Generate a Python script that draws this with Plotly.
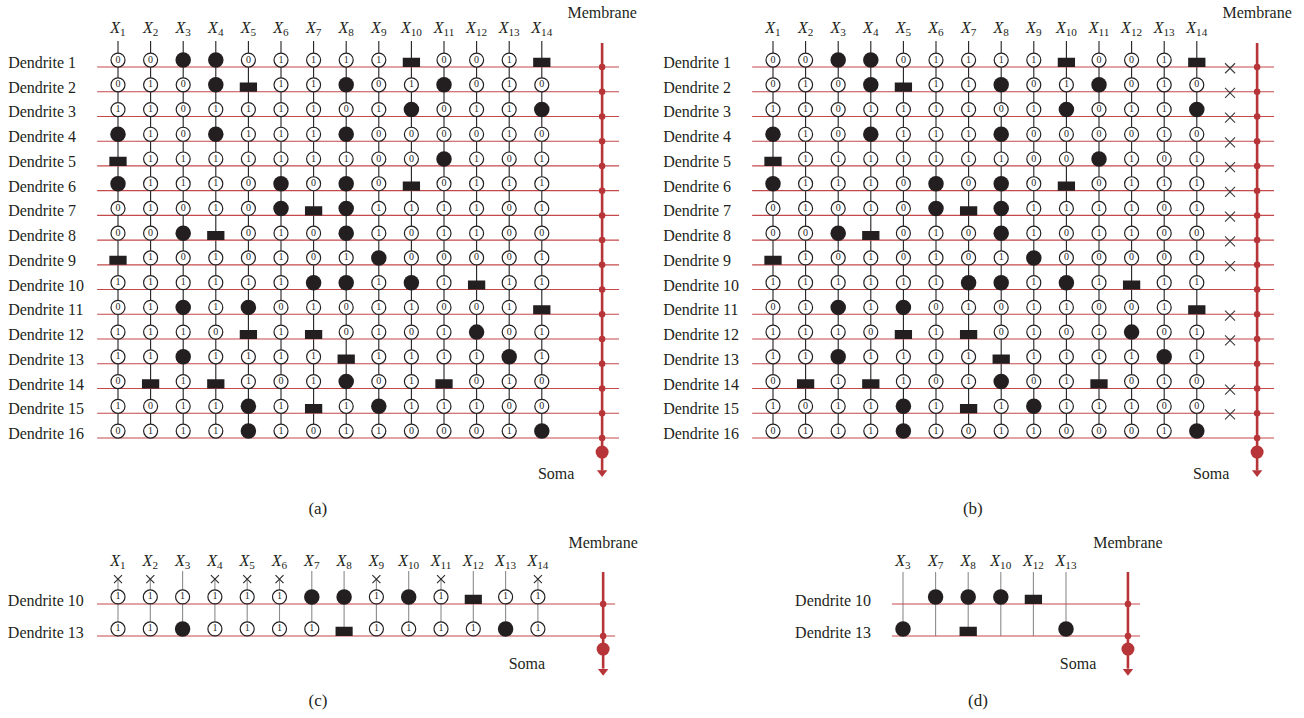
import plotly.graph_objects as go

W, H = 1304, 718

# ---------------------------------------------------------------- data
inputs = [f"X{i}" for i in range(1, 15)]
dendrites = [f"Dendrite {i}" for i in range(1, 17)]

# One string per dendrite, one character per input X1..X14:
# '0' / '1' constant synapse, 'F' filled circle, 'S' filled bar
synapses = [
    "00FF01111S001S",
    "010FS11F01F010",
    "110111101F011F",
    "F10F111F000010",
    "S111111100F101",
    "F1110F0F0S0111",
    "01010FSF111101",
    "00FS010F101100",
    "S1010101F00001",
    "111111FF1F1S11",
    "01F1F01011001S",
    "1110S1S0101F01",
    "11F1111S1111F1",
    "0S1S101F01S010",
    "1011F1S1F11100",
    "0111F10110001F",
]

pruned_dendrites = [1, 2, 3, 4, 5, 6, 7, 8, 9, 11, 12, 14, 15]
kept_dendrites = [10, 13]
pruned_inputs = [1, 2, 4, 5, 6, 9, 11, 14]
kept_inputs = [3, 7, 8, 10, 12, 13]

captions = ["(a)", "(b)", "(c)", "(d)"]

# ---------------------------------------------------------------- style
FONT = "Liberation Serif, DejaVu Serif, serif"
INK = "#231f20"
RED = "#c4494b"
MEM = "#b73538"
GREY = "#8c8c8c"
LABEL_SIZE = 16

fig = go.Figure()


def add_axes(n, dom_x, dom_y, x_ref_px, x_step, y_ref_px, y_step):
    """Axis pair n: value 0 sits at (x_ref_px, y_ref_px), one unit = step px."""
    sfx = "" if n == 1 else str(n)
    x0, x1 = dom_x
    y0, y1 = dom_y
    xr = [(x0 - x_ref_px) / x_step, (x1 - x_ref_px) / x_step]
    yr = [(y1 - y_ref_px) / y_step, (y0 - y_ref_px) / y_step]
    fig.update_layout({
        f"xaxis{sfx}": dict(domain=[x0 / W, x1 / W], range=xr, visible=False,
                            anchor=f"y{sfx}", fixedrange=True),
        f"yaxis{sfx}": dict(domain=[1 - y1 / H, 1 - y0 / H], range=yr, visible=False,
                            anchor=f"x{sfx}", fixedrange=True),
    })
    return f"x{sfx}", f"y{sfx}"


def x_label(name):
    return f"<i>X</i><sub>{name[1:]}</sub>"


def texts(ax, xs, ys, labels, size=LABEL_SIZE, position="middle center"):
    fig.add_trace(go.Scatter(x=xs, y=ys, text=labels, mode="text", textposition=position,
                             textfont=dict(family=FONT, size=size, color=INK),
                             cliponaxis=False, xaxis=ax[0], yaxis=ax[1],
                             hoverinfo="skip", showlegend=False))


def segments(pairs_x, pairs_y):
    xs, ys = [], []
    for (a, b), (c, d) in zip(pairs_x, pairs_y):
        xs += [a, b, None]
        ys += [c, d, None]
    return xs, ys


def lines(ax, xs, ys, color, width):
    fig.add_trace(go.Scatter(x=xs, y=ys, mode="lines", xaxis=ax[0], yaxis=ax[1],
                             line=dict(color=color, width=width), hoverinfo="skip",
                             showlegend=False))


def synapse_marks(ax, cols, rows, codes, g):
    """Draw open circles with their bit, filled circles and filled bars."""
    oc = [(c, r, k) for c, r, k in zip(cols, rows, codes) if k in "01"]
    fc = [(c, r) for c, r, k in zip(cols, rows, codes) if k == "F"]
    sq = [(c, r) for c, r, k in zip(cols, rows, codes) if k == "S"]
    if sq:
        hw, h = g["bar_w"] / 2, g["bar_h"]
        xs, ys = [], []
        for c, r in sq:
            xs += [c - hw, c + hw, c + hw, c - hw, c - hw, None]
            ys += [r - h, r - h, r, r, r - h, None]
        fig.add_trace(go.Scatter(x=xs, y=ys, mode="lines", fill="toself", fillcolor=INK,
                                 line=dict(width=0, color=INK), xaxis=ax[0], yaxis=ax[1],
                                 hoverinfo="skip", showlegend=False))
    if oc:
        fig.add_trace(go.Scatter(
            x=[c for c, r, k in oc], y=[r - g["off"] for c, r, k in oc],
            mode="markers+text", text=[k for c, r, k in oc], textposition="middle center",
            textfont=dict(family=FONT, size=10, color=INK), cliponaxis=False,
            marker=dict(symbol="circle", size=14, color="white", line=dict(color=INK, width=1.2)),
            xaxis=ax[0], yaxis=ax[1], hoverinfo="skip", showlegend=False))
    if fc:
        fig.add_trace(go.Scatter(
            x=[c for c, r in fc], y=[r - g["off"] for c, r in fc], mode="markers",
            marker=dict(symbol="circle", size=15.5, color=INK, line=dict(width=0)),
            xaxis=ax[0], yaxis=ax[1], hoverinfo="skip", showlegend=False, cliponaxis=False))


def membrane(ax, mx, rows, g):
    lines(ax, [mx, mx], [g["mem_top"], g["arrow"] - 0.08], MEM, 2.6)
    fig.add_trace(go.Scatter(x=[mx] * len(rows), y=rows, mode="markers",
                             marker=dict(size=6.5, color=MEM), xaxis=ax[0], yaxis=ax[1],
                             hoverinfo="skip", showlegend=False))
    fig.add_trace(go.Scatter(x=[mx], y=[g["soma_dot"]], mode="markers",
                             marker=dict(size=13, color=MEM), xaxis=ax[0], yaxis=ax[1],
                             hoverinfo="skip", showlegend=False))
    fig.add_trace(go.Scatter(x=[mx], y=[g["arrow"]], mode="markers",
                             marker=dict(symbol="triangle-down", size=9, color=MEM,
                                         line=dict(width=0)),
                             xaxis=ax[0], yaxis=ax[1], hoverinfo="skip", showlegend=False,
                             cliponaxis=False))
    texts(ax, [mx, g["soma_x"]], [g["mem_text"], g["soma_y"]], ["Membrane", "Soma"])


# ---------------------------------------------------------------- panels (a) and (b)
full_g = dict(off=0.28, bar_w=0.53, bar_h=0.37, line_from=-0.64, line_to=15.37,
              stem_top=-1.05, mem_x=14.85, mem_top=-0.97, soma_dot=15.57, arrow=16.4,
              mem_text=-2.14, soma_x=13.44, soma_y=16.5, lab_x=-3.37, lab_dy=-0.12,
              xlab_y=-1.55, cap_x=6.13, cap_y=17.9, cut_x=14.02)

for n, (dom_x, x0px, cap) in enumerate([((0, 652), 118, captions[0]),
                                         ((652, W), 773, captions[1])], start=1):
    ax = add_axes(n, dom_x, (0, 520), x0px, 32.6, 67, 24.73)
    g = full_g
    cols = list(range(len(inputs)))
    rows = list(range(len(dendrites)))
    # input stems
    xs, ys = segments([(c, c) for c in cols], [(g["stem_top"], rows[-1])] * len(cols))
    lines(ax, xs, ys, INK, 1.1)
    # dendrite branches
    xs, ys = segments([(g["line_from"], g["line_to"])] * len(rows), [(r, r) for r in rows])
    lines(ax, xs, ys, RED, 1.1)
    # synapses
    cc, rr, kk = [], [], []
    for r, code in zip(rows, synapses):
        for c, k in zip(cols, code):
            cc.append(c); rr.append(r); kk.append(k)
    synapse_marks(ax, cc, rr, kk, g)
    if n == 2:
        fig.add_trace(go.Scatter(
            x=[g["cut_x"]] * len(pruned_dendrites), y=[d - 1 + 0.05 for d in pruned_dendrites],
            mode="markers", marker=dict(symbol="x-thin", size=10,
                                        line=dict(color="#3a3a3a", width=1.1)),
            xaxis=ax[0], yaxis=ax[1], hoverinfo="skip", showlegend=False))
    membrane(ax, g["mem_x"], rows, g)
    texts(ax, cols, [g["xlab_y"]] * len(cols), [x_label(s) for s in inputs], size=16)
    texts(ax, [g["lab_x"]] * len(rows), [r + g["lab_dy"] for r in rows], dendrites,
          position="middle right")
    texts(ax, [g["cap_x"]], [g["cap_y"]], [cap], size=17)

# ---------------------------------------------------------------- panel (c)
small_g = dict(off=0.22, bar_w=0.53, bar_h=0.29, mem_top=-1.0, soma_dot=1.41,
               arrow=2.1, mem_text=-1.88)

ax = add_axes(3, (0, 652), (520, H), 118, 32.3, 604, 32)
g = dict(small_g, line_from=-0.65, line_to=15.39, mem_x=15.02, soma_x=12.66, soma_y=1.9)
cols = list(range(len(inputs)))
rows = [0, 1]
kept_codes = [synapses[d - 1] for d in kept_dendrites]
kept_names = [f"Dendrite {d}" for d in kept_dendrites]
cut_cols = [i - 1 for i in pruned_inputs]
xs, ys = segments([(c, c) for c in cols],
                  [(-0.78 if c in cut_cols else -1.03, 1) for c in cols])
lines(ax, xs, ys, GREY, 1.1)
xs, ys = segments([(g["line_from"], g["line_to"])] * 2, [(r, r) for r in rows])
lines(ax, xs, ys, RED, 1.1)
cc, rr, kk = [], [], []
for r, code in zip(rows, kept_codes):
    for c, k in zip(cols, code):
        cc.append(c); rr.append(r); kk.append(k)
synapse_marks(ax, cc, rr, kk, g)
fig.add_trace(go.Scatter(x=cut_cols, y=[-0.78] * len(cut_cols), mode="markers",
                         marker=dict(symbol="x-thin", size=8, line=dict(color="#2a2a2a", width=1.1)),
                         xaxis=ax[0], yaxis=ax[1], hoverinfo="skip", showlegend=False))
membrane(ax, g["mem_x"], rows, g)
texts(ax, cols, [-1.32] * len(cols), [x_label(s) for s in inputs], size=16)
texts(ax, [-3.41] * 2, [r - 0.07 for r in rows], kept_names, position="middle right")
texts(ax, [6.19], [3.06], [captions[2]], size=17)

# ---------------------------------------------------------------- panel (d)
ax = add_axes(4, (652, W), (520, H), 903, 32.6, 604, 32)
g = dict(small_g, line_from=-0.34, line_to=7.27, mem_x=6.9, soma_x=5.37, soma_y=1.9)
cols = list(range(len(kept_inputs)))
xs, ys = segments([(c, c) for c in cols], [(-1.0, 1)] * len(cols))
lines(ax, xs, ys, GREY, 1.1)
xs, ys = segments([(g["line_from"], g["line_to"])] * 2, [(r, r) for r in rows])
lines(ax, xs, ys, RED, 1.1)
cc, rr, kk = [], [], []
for r, code in zip(rows, kept_codes):
    for c, i in zip(cols, kept_inputs):
        k = code[i - 1]
        if k != "1":
            cc.append(c); rr.append(r); kk.append(k)
synapse_marks(ax, cc, rr, kk, g)
membrane(ax, g["mem_x"], rows, g)
texts(ax, cols, [-1.32] * len(cols), [x_label(f"X{i}") for i in kept_inputs], size=16)
texts(ax, [-3.31] * 2, [r - 0.07 for r in rows], kept_names, position="middle right")
texts(ax, [2.3], [3.06], [captions[3]], size=17)

fig.update_layout(width=W, height=H, margin=dict(l=0, r=0, t=0, b=0),
                  paper_bgcolor="white", plot_bgcolor="rgba(0,0,0,0)",
                  showlegend=False)

fig.write_html("out.html")
